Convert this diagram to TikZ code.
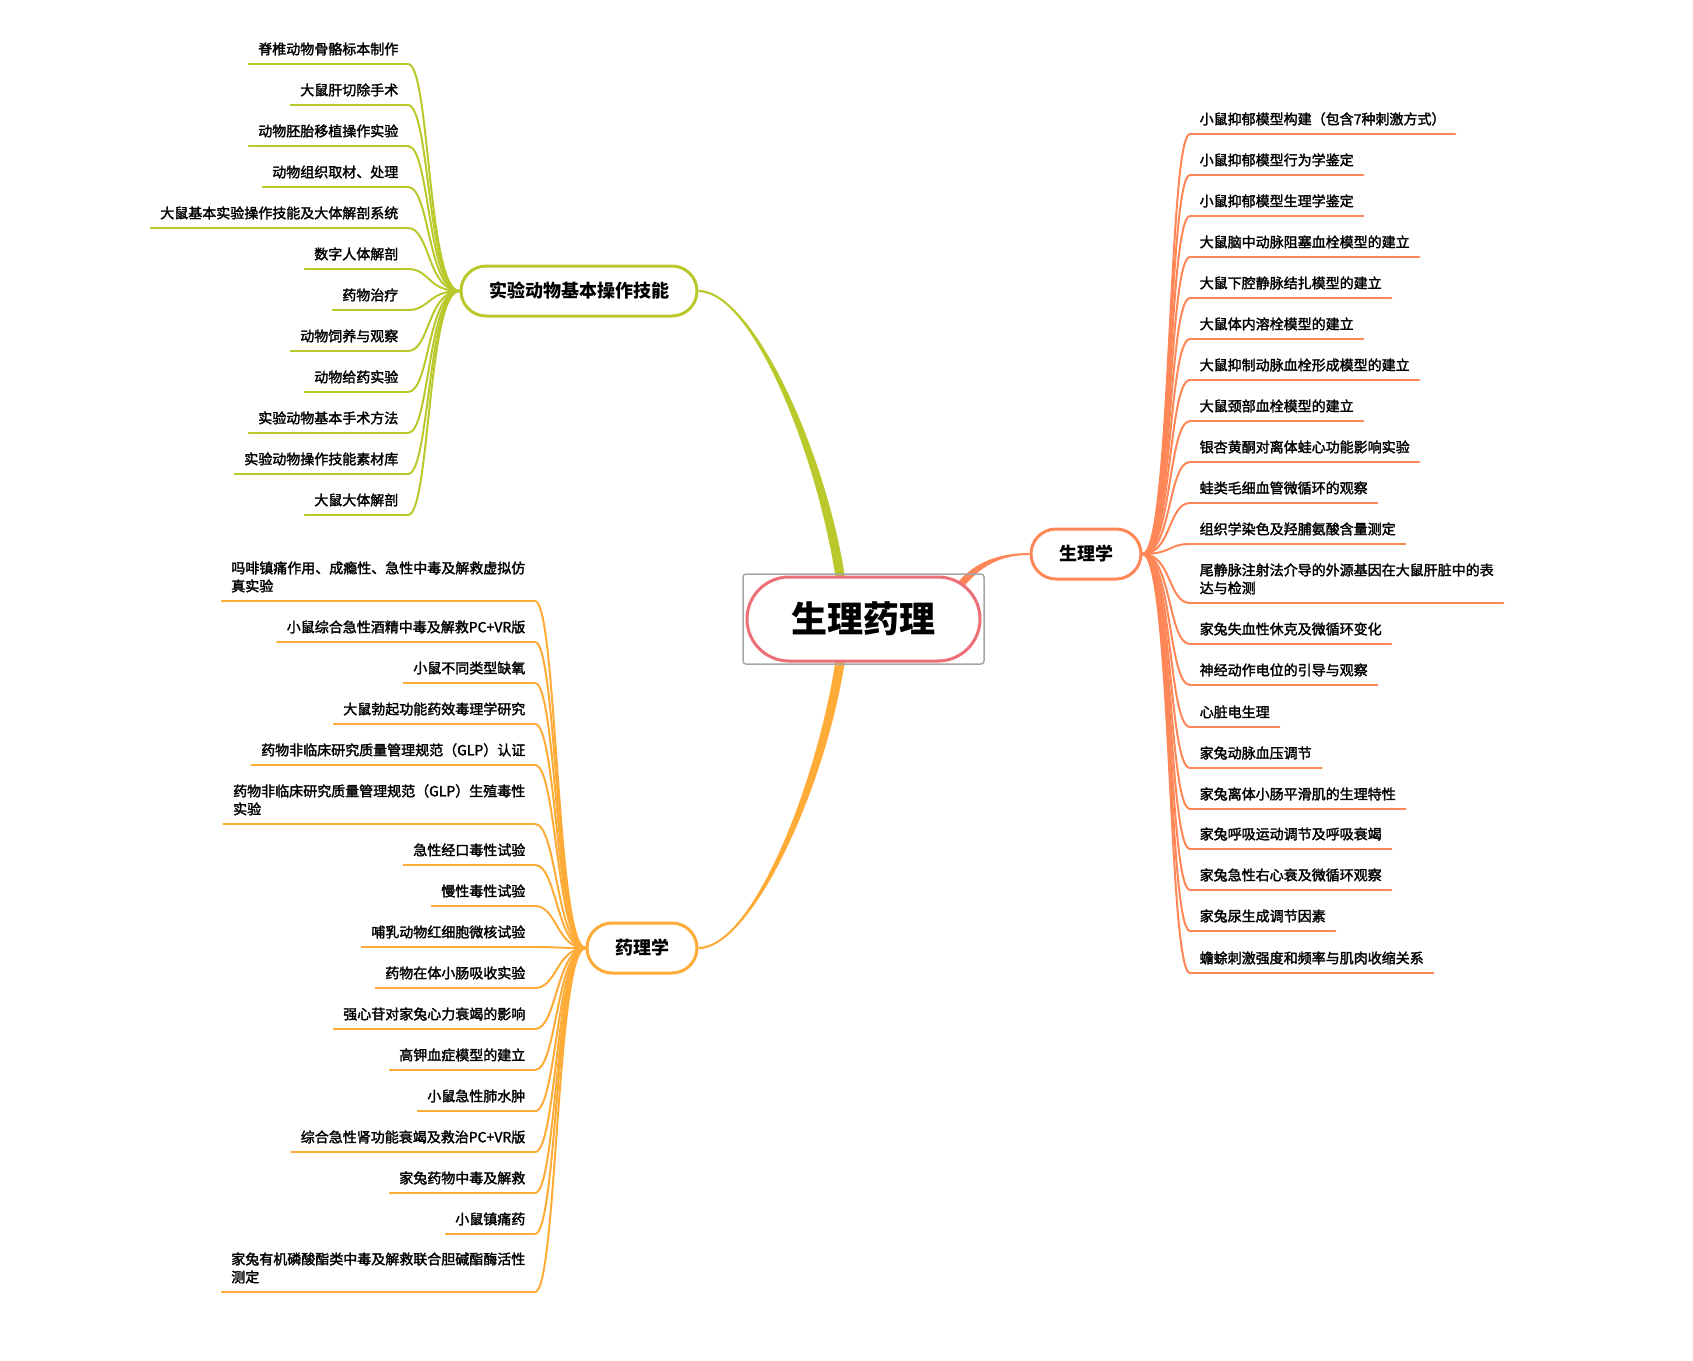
\documentclass[tikz,border=0pt]{standalone}
\usepackage{fontspec}
\setmainfont{Noto Sans CJK SC}
\newfontfamily\leaffont{Noto Sans CJK SC}[FakeBold=2]
\usetikzlibrary{shapes.misc,calc}
\definecolor{cgreen}{HTML}{B9C92C}
\definecolor{ccoral}{HTML}{FF8657}
\definecolor{corange}{HTML}{FFAB38}
\definecolor{cpink}{HTML}{EC6E77}
\definecolor{cgray}{HTML}{A6A6A6}
\pgfdeclarelayer{bg}
\pgfsetlayers{bg,main}
\begin{document}
\begin{tikzpicture}[x=1pt,y=-1pt,
  topic/.style={rounded rectangle, draw, fill=white, line width=3pt, text=black,
    font=\fontsize{18}{22}\selectfont\bfseries, minimum height=50pt, inner sep=0pt},
  leafbase/.style={font=\leaffont\fontsize{14}{18}\selectfont, text=black,
    text height=11pt, text depth=3pt, inner xsep=9.5pt, inner ysep=6.5pt, align=left},
  leafR/.style={leafbase, anchor=south west},
  leafL/.style={leafbase, anchor=south east},
  curve/.style={line width=2pt, line cap=round},
  uline/.style={line width=2.2pt, line cap=round}]
\useasboundingbox (0,0) rectangle (1693,1360);

% central topic
\node[rounded rectangle, draw=cpink, fill=white, line width=3pt, minimum width=233pt,
  minimum height=84pt, inner sep=0pt, text=black,
  font=\fontsize{36}{40}\selectfont\bfseries] (c) at (863.5,619) {生理药理};
\node[draw=cgray, line width=1.5pt, rounded corners=3pt, minimum width=241pt,
  minimum height=90pt, inner sep=0pt] (cbox) at (c.center) {};

% main topics
\node[topic, draw=cgreen, minimum width=236pt] (g) at (579,291) {实验动物基本操作技能};
\node[topic, draw=ccoral, minimum width=110pt] (s) at (1086,554) {生理学};
\node[topic, draw=corange, minimum width=110pt] (o) at (642,948) {药理学};

\coordinate (gEnd) at ($(c.north)+(-23.5,0)$);
\coordinate (oEnd) at ($(c.south)+(-23.5,0)$);
\coordinate (sEnd) at ($(c.center)+(98.5,-36)$);

\begin{pgfonlayer}{bg}
\fill[cgreen] ($(g.east)+(0,-1.1)$) .. controls +(53,0) and +(-20,-127) .. ($(gEnd)+(4.6,-0.7)$)
  -- ++(3,20) -- ++(-9.2,0) -- ($(gEnd)+(-4.6,0.7)$)
  .. controls +(-20,-127) and +(53,0) .. ($(g.east)+(0,1.1)$) -- cycle;
\fill[corange] ($(o.east)+(0,1.1)$) .. controls +(53,0) and +(-20,127) .. ($(oEnd)+(4.6,0.7)$)
  -- ++(3,-20) -- ++(-9.2,0) -- ($(oEnd)+(-4.6,-0.7)$)
  .. controls +(-20,127) and +(53,0) .. ($(o.east)+(0,-1.1)$) -- cycle;
\fill[ccoral] ($(s.west)+(0,-1)$) .. controls +(-31,0) and +(16,-18) .. ($(sEnd)+(-2.7,-2.4)$)
  -- ++(-13,15) -- ++(5.4,4.8) -- ($(sEnd)+(2.7,2.4)$)
  .. controls +(16,-18) and +(-31,0) .. ($(s.west)+(0,1)$) -- cycle;
\end{pgfonlayer}

% green leaves
\foreach \i/\y/\t in {
  1/64/{脊椎动物骨骼标本制作},
  2/105/{大鼠肝切除手术},
  3/146/{动物胚胎移植操作实验},
  4/187/{动物组织取材、处理},
  5/228/{大鼠基本实验操作技能及大体解剖系统},
  6/269/{数字人体解剖},
  7/310/{药物治疗},
  8/351/{动物饲养与观察},
  9/392/{动物给药实验},
  10/433/{实验动物基本手术方法},
  11/474/{实验动物操作技能素材库},
  12/515/{大鼠大体解剖}}{
  \node[leafL] (g\i) at (408,\y) {\t};
  \begin{pgfonlayer}{bg}
  \draw[curve, cgreen] (g.west) .. controls +(-32,0) and +(22,0) .. (g\i.south east);
  \draw[uline, cgreen] (g\i.south west) -- (g\i.south east);
  \end{pgfonlayer}
}

% coral leaves
\foreach \i/\y/\t in {
  1/134/{小鼠抑郁模型构建（包含7种刺激方式）},
  2/175/{小鼠抑郁模型行为学鉴定},
  3/216/{小鼠抑郁模型生理学鉴定},
  4/257/{大鼠脑中动脉阻塞血栓模型的建立},
  5/298/{大鼠下腔静脉结扎模型的建立},
  6/339/{大鼠体内溶栓模型的建立},
  7/380/{大鼠抑制动脉血栓形成模型的建立},
  8/421/{大鼠颈部血栓模型的建立},
  9/462/{银杏黄酮对离体蛙心功能影响实验},
  10/503/{蛙类毛细血管微循环的观察},
  11/544/{组织学染色及羟脯氨酸含量测定},
  12/603/{尾静脉注射法介导的外源基因在大鼠肝脏中的表\\达与检测},
  13/644/{家兔失血性休克及微循环变化},
  14/685/{神经动作电位的引导与观察},
  15/727/{心脏电生理},
  16/768/{家兔动脉血压调节},
  17/809/{家兔离体小肠平滑肌的生理特性},
  18/849/{家兔呼吸运动调节及呼吸衰竭},
  19/890/{家兔急性右心衰及微循环观察},
  20/931/{家兔尿生成调节因素},
  21/973/{蟾蜍刺激强度和频率与肌肉收缩关系}}{
  \node[leafR] (s\i) at (1190,\y) {\t};
  \begin{pgfonlayer}{bg}
  \draw[curve, ccoral] (s.east) .. controls +(29,0) and +(-22,0) .. (s\i.south west);
  \draw[uline, ccoral] (s\i.south west) -- (s\i.south east);
  \end{pgfonlayer}
}

% orange leaves
\foreach \i/\y/\t in {
  1/601/{吗啡镇痛作用、成瘾性、急性中毒及解救虚拟仿\\真实验},
  2/642/{小鼠综合急性酒精中毒及解救PC+VR版},
  3/683/{小鼠不同类型缺氧},
  4/724/{大鼠勃起功能药效毒理学研究},
  5/765/{药物非临床研究质量管理规范（GLP）认证},
  6/824/{药物非临床研究质量管理规范（GLP）生殖毒性\\实验},
  7/865/{急性经口毒性试验},
  8/906/{慢性毒性试验},
  9/947/{哺乳动物红细胞微核试验},
  10/988/{药物在体小肠吸收实验},
  11/1029/{强心苷对家兔心力衰竭的影响},
  12/1070/{高钾血症模型的建立},
  13/1111/{小鼠急性肺水肿},
  14/1152/{综合急性肾功能衰竭及救治PC+VR版},
  15/1193/{家兔药物中毒及解救},
  16/1234/{小鼠镇痛药},
  17/1292/{家兔有机磷酸酯类中毒及解救联合胆碱酯酶活性\\测定}}{
  \node[leafL] (o\i) at (535,\y) {\t};
  \begin{pgfonlayer}{bg}
  \draw[curve, corange] (o.west) .. controls +(-29,0) and +(22,0) .. (o\i.south east);
  \draw[uline, corange] (o\i.south west) -- (o\i.south east);
  \end{pgfonlayer}
}
\end{tikzpicture}
\end{document}
